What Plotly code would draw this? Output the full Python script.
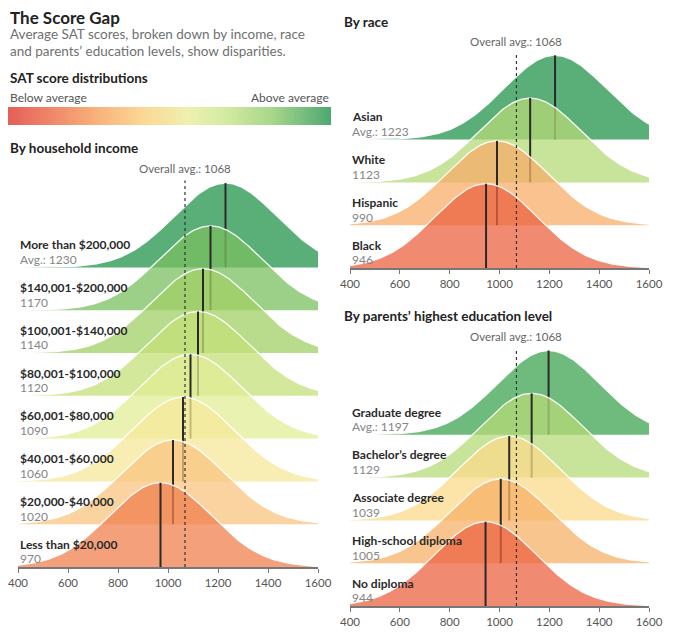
import numpy as np
import plotly.graph_objects as go

# ---------------- data ----------------
overall_avg = 1068
tick_vals = [400, 600, 800, 1000, 1200, 1400, 1600]

income_groups = ["More than $200,000", "$140,001-$200,000", "$100,001-$140,000",
                 "$80,001-$100,000", "$60,001-$80,000", "$40,001-$60,000",
                 "$20,000-$40,000", "Less than $20,000"]
income_avgs = [1230, 1170, 1140, 1120, 1090, 1060, 1020, 970]

race_groups = ["Asian", "White", "Hispanic", "Black"]
race_avgs = [1223, 1123, 990, 946]

edu_groups = ["Graduate degree", "Bachelor’s degree", "Associate degree",
              "High-school diploma", "No diploma"]
edu_avgs = [1197, 1129, 1039, 1005, 944]

# ---------------- styles ----------------
income_colors = ["#5aaf78", "#9ccf88", "#b9dc8c", "#d3e89a", "#e9f2b0",
                 "#f8eeb4", "#fbd3a0", "#f4a07a"]
race_colors = ["#5aaf78", "#c8e39a", "#f9c28e", "#f08a70"]
edu_colors = ["#6fbb7e", "#c8e39a", "#fce4a8", "#f9c58e", "#f08a70"]
legend_scale = [[0.0, "#e5605a"], [0.15, "#f08c6c"], [0.27, "#f8b07a"],
                [0.42, "#fcd896"], [0.56, "#eef0b0"], [0.68, "#d2eaa0"],
                [0.82, "#a8d68a"], [1.0, "#4ea872"]]

ALPHA = 0.75
SIGMA = 205
PEAK = 1.97
W, H = 680, 635
OFF = 8          # page body margin in the browser
ROW_PX = 42.8
FONT = "Lato"


def blend_base(hexcol):
    h = hexcol.lstrip("#")
    obs = [int(h[i:i + 2], 16) for i in (0, 2, 4)]
    base = [min(255, max(0, round((c - (1 - ALPHA) * 255) / ALPHA))) for c in obs]
    return f"rgba({base[0]},{base[1]},{base[2]},{ALPHA})"


def px_x(p):
    return (p - OFF) / W


def px_y(p):
    return 1 - (p - OFF) / H


fig = go.Figure()

panels = [
    # groups, avgs, colors, axis suffix, x px domain, bottom px, top px
    (income_groups, income_avgs, income_colors, "", (18, 318), 567, 139),
    (race_groups, race_avgs, race_colors, "2", (350, 649), 268, 30),
    (edu_groups, edu_avgs, edu_colors, "3", (350, 649), 606, 325),
]

grid = np.linspace(400, 1600, 241)
annotations = []

for groups, avgs, colors, sfx, (xl, xr), bot, top in panels:
    xa = "x" + sfx
    ya = "y" + sfx
    n = len(groups)
    ymax = (bot - top) / ROW_PX
    for i, (g, m, c) in enumerate(zip(groups, avgs, colors)):
        base = n - 1 - i
        curve = base + PEAK * np.exp(-((grid - m) ** 2) / (2 * SIGMA ** 2))
        xs = np.concatenate([[grid[0]], grid, [grid[-1]]])
        ys = np.concatenate([[base], curve, [base]])
        fig.add_trace(go.Scatter(x=xs, y=ys, fill="toself", fillcolor=blend_base(c),
                                 mode="lines", line=dict(width=0), hoverinfo="skip",
                                 xaxis=xa, yaxis=ya))
        fig.add_trace(go.Scatter(x=grid, y=curve, mode="lines",
                                 line=dict(color="rgba(255,255,255,0.95)", width=1.3),
                                 hoverinfo="skip", xaxis=xa, yaxis=ya))
        fig.add_trace(go.Scatter(x=[m, m], y=[base, base + PEAK], mode="lines",
                                 line=dict(color="#2a2a2a", width=2),
                                 hoverinfo="skip", xaxis=xa, yaxis=ya))
        val = f"Avg.: {m}" if i == 0 else f"{m}"
        annotations.append(dict(x=px_x(xl), xref="paper", y=base + 0.53, yref=ya,
                                text=f"<b>{g}</b>", showarrow=False, xanchor="left",
                                yanchor="middle", font=dict(size=12, color="#2a2a2a", family=FONT)))
        annotations.append(dict(x=px_x(xl), xref="paper", y=base + 0.19, yref=ya,
                                text=val, showarrow=False, xanchor="left",
                                yanchor="middle", font=dict(size=12, color="#858585", family=FONT)))
    # overall avg dashed line
    fig.add_trace(go.Scatter(x=[overall_avg, overall_avg], y=[0, n - 1 + 2.03], mode="lines",
                             line=dict(color="#333333", width=1.2, dash="3px,3px"),
                             hoverinfo="skip", xaxis=xa, yaxis=ya))
    annotations.append(dict(x=overall_avg, xref=xa, y=n - 1 + 2.3, yref=ya,
                            text=f"Overall avg.: {overall_avg}", showarrow=False,
                            xanchor="center", yanchor="middle",
                            font=dict(size=11.5, color="#666666", family=FONT)))
    axis_x = dict(domain=[px_x(xl), px_x(xr)], range=[400, 1600], tickvals=tick_vals,
                  showgrid=False, zeroline=False, showline=True, linecolor="#777777",
                  linewidth=1.5, ticks="outside", ticklen=4, tickcolor="#777777",
                  tickfont=dict(size=11.5, color="#555555", family=FONT),
                  ticklabeloverflow="allow",
                  anchor=ya, fixedrange=True)
    axis_y = dict(domain=[px_y(bot), px_y(top)], range=[0, ymax], visible=False,
                  anchor=xa, fixedrange=True)
    fig.layout["xaxis" + sfx] = axis_x
    fig.layout["yaxis" + sfx] = axis_y

# gradient legend bar
fig.add_trace(go.Heatmap(z=[list(np.linspace(0, 1, 200))], colorscale=legend_scale,
                         showscale=False, hoverinfo="skip", xaxis="x4", yaxis="y4"))
fig.layout["xaxis4"] = dict(domain=[px_x(8), px_x(331)], visible=False, anchor="y4",
                            range=[-0.5, 199.5])
fig.layout["yaxis4"] = dict(domain=[px_y(125), px_y(107)], visible=False, anchor="x4",
                            range=[-0.5, 0.5])


def txt(x, y, text, size, color, bold=False, anchor="left"):
    annotations.append(dict(x=px_x(x), y=px_y(y), xref="paper", yref="paper",
                            text=f"<b>{text}</b>" if bold else text, showarrow=False,
                            xanchor=anchor, yanchor="middle",
                            font=dict(size=size, color=color, family=FONT)))


txt(8, 17, "The Score Gap", 17, "#222222", bold=True)
txt(8, 34, "Average SAT scores, broken down by income, race", 13.5, "#707070")
txt(8, 51, "and parents’ education levels, show disparities.", 13.5, "#707070")
txt(8, 78, "SAT score distributions", 13.5, "#222222", bold=True)
txt(8, 98, "Below average", 12, "#555555")
txt(331, 98, "Above average", 12, "#555555", anchor="right")
txt(8, 148, "By household income", 13.5, "#222222", bold=True)
txt(342, 22, "By race", 13.5, "#222222", bold=True)
txt(342, 316, "By parents’ highest education level", 13.5, "#222222", bold=True)

fig.update_layout(width=W, height=H,
                  margin=dict(l=0, r=0, t=0, b=0, autoexpand=False),
                  paper_bgcolor="white", plot_bgcolor="white", showlegend=False,
                  annotations=annotations, font=dict(family=FONT))

fig.write_html("out.html")
